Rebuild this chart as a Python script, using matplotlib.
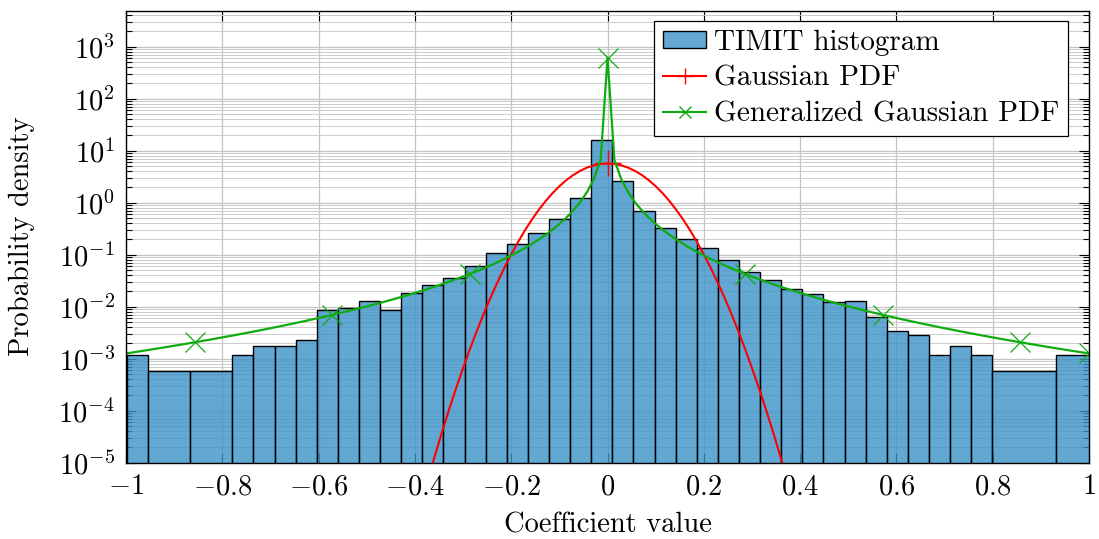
import numpy as np
import matplotlib.pyplot as plt
from math import gamma
from matplotlib.colors import to_rgba
from matplotlib.lines import Line2D
from matplotlib.patches import Patch
from matplotlib.ticker import FixedLocator, LogLocator, NullFormatter, FuncFormatter

plt.rcParams['font.family'] = 'cmr10'
plt.rcParams['mathtext.fontset'] = 'cm'
plt.rcParams['axes.formatter.use_mathtext'] = True
plt.rcParams['font.size'] = 20.5

# histogram of coefficients: only the non-empty bins are listed,
# every bar runs on to the start of the next listed bin
bin_start = -0.9985
bin_width = 0.04385
n_bins = 46
bar_bins = [0, 1, 3] + list(range(5, 42)) + [44]
bar_counts = [2, 1, 1, 2, 3, 3, 4, 15, 16, 22, 15, 31, 46, 62, 106, 185, 279,
              453, 819, 2079, 27900, 4550, 1207, 566, 348, 229, 137, 80, 57,
              37, 30, 21, 22, 11, 6, 5, 2, 3, 2, 1, 2]

# fitted models
gauss_mu = 0.0
gauss_sigma = 0.0705
gg_alpha = 3.4e-5
gg_beta = 0.25
n_samples = 141

x_ticks = [-1, -0.8, -0.6, -0.4, -0.2, 0, 0.2, 0.4, 0.6, 0.8, 1]

counts = np.array(bar_counts, dtype=float)
density = counts / (counts.sum() * bin_width)
edges = bin_start + bin_width * np.array(bar_bins + [n_bins])
lefts = edges[:-1]
widths = np.diff(edges)

x = np.linspace(-1, 1, n_samples)
gauss = np.exp(-(x - gauss_mu) ** 2 / (2 * gauss_sigma ** 2)) / (np.sqrt(2 * np.pi) * gauss_sigma)
gen_gauss = gg_beta / (2 * gg_alpha * gamma(1 / gg_beta)) * np.exp(-(np.abs(x - gauss_mu) / gg_alpha) ** gg_beta)

bar_color = to_rgba('#3b92c9', 0.8)
red = '#ff0000'
green = '#0fac0f'

fig = plt.figure(figsize=(10.99, 5.39), dpi=100)
ax = fig.add_axes([0.1147, 0.1416, 0.8762, 0.8385])

ax.bar(lefts, density, width=widths, align='edge', bottom=1e-7,
       facecolor=bar_color, edgecolor='black', linewidth=1.0)
ax.plot(x, gauss, color=red, lw=1.5, marker='+', markersize=19,
        markeredgewidth=1.0, markevery=[70])
ax.plot(x, gen_gauss, color=green, lw=1.6, marker='x', markersize=15,
        markeredgewidth=0.9, markevery=[10, 30, 50, 70, 90, 110, 130, 140])

ax.set_yscale('log')
ax.set_xlim(-1, 1)
ax.set_ylim(1e-5, 4.9e3)

ax.xaxis.set_major_locator(FixedLocator(x_ticks))
ax.xaxis.set_major_formatter(FuncFormatter(lambda v, p: '$%g$' % v))
ax.yaxis.set_major_locator(LogLocator(base=10, numticks=20))
ax.yaxis.set_minor_locator(LogLocator(base=10, subs=np.arange(2, 10), numticks=20))
ax.yaxis.set_minor_formatter(NullFormatter())
ax.yaxis.set_major_formatter(FuncFormatter(
    lambda v, p: r'$10^{%d}$' % int(round(np.log10(v)))))

ax.tick_params(which='both', direction='in', top=True, right=True, width=0.8)
ax.tick_params(which='major', length=7, pad=8)
ax.tick_params(which='minor', length=4)

ax.set_axisbelow(True)
ax.grid(True, which='major', color='#c4c4c4', lw=0.9)
ax.grid(True, which='minor', axis='y', color='#cccccc', lw=0.7)
for s in ax.spines.values():
    s.set_linewidth(1.0)

ax.set_xlabel('Coefficient value', labelpad=9)
ax.set_ylabel('Probability density', labelpad=17)

handles = [
    Patch(facecolor=bar_color, edgecolor='black', linewidth=1.0),
    Line2D([], [], color=red, lw=1.5, marker='+', markersize=11, markeredgewidth=1.0),
    Line2D([], [], color=green, lw=1.5, marker='x', markersize=8, markeredgewidth=1.0),
]
labels = ['TIMIT histogram', 'Gaussian PDF', 'Generalized Gaussian PDF']
leg = ax.legend(handles, labels, loc='upper right', bbox_to_anchor=(0.978, 0.978),
                fontsize=21, fancybox=False, framealpha=1, edgecolor='black',
                borderpad=0.3, handlelength=1.5, handleheight=0.5,
                handletextpad=0.25, labelspacing=0.33, borderaxespad=0)
leg.get_frame().set_linewidth(0.9)

fig.savefig('out.png', dpi=100)
